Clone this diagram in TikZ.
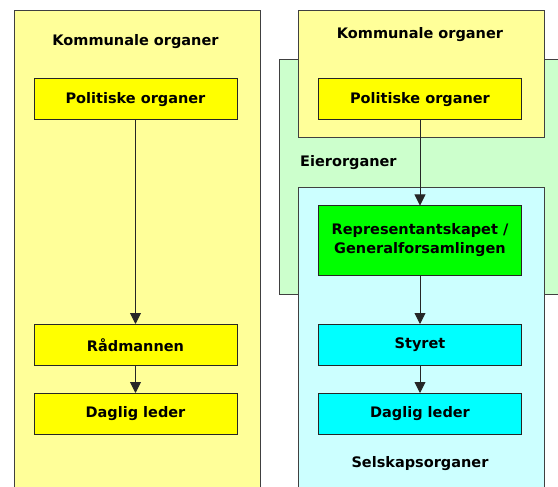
\documentclass[tikz,border=0pt]{standalone}
\usepackage{fontspec}
\setmainfont{DejaVu Sans}
\definecolor{paleyellow}{HTML}{FFFF99}
\definecolor{boxyellow}{HTML}{FFFF00}
\definecolor{palegreen}{HTML}{CCFFCC}
\definecolor{boxgreen}{HTML}{00FF00}
\definecolor{palecyan}{HTML}{CCFFFF}
\definecolor{boxcyan}{HTML}{00FFFF}
\usepackage{tikz}
\usetikzlibrary{arrows.meta, positioning}

\tikzset{
	region/.style={draw=black!75, line width=1pt, anchor=north west, inner sep=0pt},
	organ/.style={draw=black!85, line width=1pt, minimum width=203pt, minimum height=41pt, align=center, inner sep=0pt},
	label/.style={inner sep=0pt},
	link/.style={draw=black!85, line width=0.9pt, -{Triangle[length=11pt, width=11pt]}},
}

\begin{document}
\begin{tikzpicture}[x=1pt, y=-1pt, font=\fontsize{14.5}{19}\selectfont\bfseries]

\useasboundingbox (0,0) rectangle (558,487);

\def \xl{135.5} % left column
\def \xr{420}   % right column

% left: kommunal
\node (kommL) [region, fill=paleyellow, minimum width=246pt, minimum height=520pt] at (14,10) {};

% right: eier, kommunal, selskap
\node (eier) [region, fill=palegreen, minimum width=330pt, minimum height=235pt] at (279,59) {};
\node (kommR) [region, fill=paleyellow, minimum width=246pt, minimum height=127pt] at (298,10) {};
\node (selskap) [region, fill=palecyan, minimum width=246pt, minimum height=340pt] at (298,187) {};

\node (kommLtitle) [label] at (\xl, 42) {Kommunale organer};
\node (kommRtitle) [label] at (\xr, 35) {Kommunale organer};
\node (eiertitle) [label, anchor=west] at (300, 163) {Eierorganer};
\node (selskaptitle) [label] at (\xr, 464) {Selskapsorganer};

\node (politikL) [organ, fill=boxyellow] at (\xl, 99.5) {Politiske organer};
\node (radmann) [organ, fill=boxyellow] at (\xl, 345) {Rådmannen};
\node (lederL) [organ, fill=boxyellow] at (\xl, 414) {Daglig leder};

\node (politikR) [organ, fill=boxyellow] at (\xr, 99.5) {Politiske organer};
\node (repr) [organ, fill=boxgreen, minimum height=69pt] at (\xr, 240.5) {Representantskapet /\\Generalforsamlingen};
\node (styret) [organ, fill=boxcyan] at (\xr, 345) {Styret};
\node (lederR) [organ, fill=boxcyan] at (\xr, 414) {Daglig leder};

\draw [link] (politikL) -- (radmann);
\draw [link] (radmann) -- (lederL);
\draw [link] (politikR) -- (repr);
\draw [link] (repr) -- (styret);
\draw [link] (styret) -- (lederR);

\end{tikzpicture}
\end{document}
